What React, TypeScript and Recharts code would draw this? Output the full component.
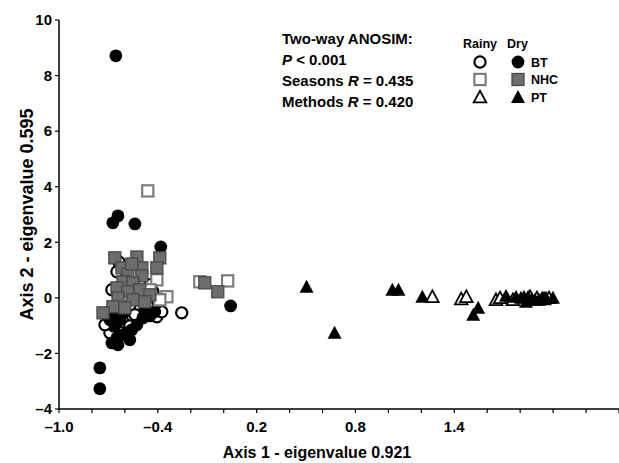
import { ScatterChart, Scatter, XAxis, YAxis } from 'recharts';

// PCoA scores per site and season, [axis 1, axis 2]
const btRainy = [
  [-0.648, 0.94], [-0.636, 1.29], [-0.255, -0.54], [-0.406, -0.68], [-0.376, -0.5],
  [-0.4, -0.14], [-0.43, 0.22], [-0.691, -1.26], [-0.667, -1.01], [-0.612, -0.86],
  [-0.57, -1.01], [-0.721, -0.97], [-0.479, -0.07], [-0.448, 0.47], [-0.509, -0.43],
  [-0.679, 0.29], [-0.539, -0.61],
];
const btDry = [
  [-0.655, 8.71], [-0.673, 2.7], [-0.642, 2.95], [-0.539, 2.66], [-0.382, 1.83],
  [0.042, -0.29], [-0.752, -2.52], [-0.752, -3.27], [-0.679, -1.62], [-0.648, -1.44],
  [-0.618, -1.33], [-0.588, -1.26], [-0.558, -1.15], [-0.527, -0.97], [-0.661, -0.97],
  [-0.63, -0.79], [-0.691, -0.79], [-0.491, -0.72], [-0.448, -0.65], [-0.418, -0.5],
  [-0.479, -0.36], [-0.6, -0.5], [-0.673, -0.5], [-0.703, -0.65], [-0.642, -1.69],
  [-0.57, -1.51],
];
const nhcRainy = [
  [-0.461, 3.85], [-0.406, 0.65], [-0.345, 0.04], [-0.145, 0.58], [0.024, 0.61],
  [-0.448, 0.29], [-0.388, -0.07], [-0.6, 0.11], [-0.539, 0.29],
];
const nhcDry = [
  [-0.661, 1.44], [-0.527, 1.47], [-0.388, 1.44], [-0.406, 1.08], [-0.497, 1.08],
  [-0.618, 1.08], [-0.582, 0.86], [-0.497, 0.79], [-0.612, 0.58], [-0.552, 0.54],
  [-0.648, 0.36], [-0.582, 0.22], [-0.509, 0.29], [-0.448, 0.11], [-0.642, 0.0],
  [-0.552, -0.07], [-0.479, -0.14], [-0.673, -0.32], [-0.6, -0.36], [-0.733, -0.54],
  [-0.115, 0.54], [-0.036, 0.22], [-0.558, 1.22],
];
const ptRainy = [
  [1.267, 0.04], [1.442, -0.04], [1.473, 0.04], [1.653, -0.07], [1.678, 0.0],
  [1.756, -0.07], [1.86, 0.04], [1.902, 0.0], [1.945, -0.04], [1.975, 0.0],
];
const ptDry = [
  [0.503, 0.4], [0.673, -1.26], [1.024, 0.29], [1.061, 0.29], [1.206, 0.04],
  [1.515, -0.61], [1.545, -0.36], [1.714, 0.07], [1.775, 0.04], [1.805, 0.0],
  [1.823, 0.04], [1.848, 0.04], [1.872, -0.04], [1.89, -0.07], [1.914, -0.07],
  [1.933, 0.0], [1.957, 0.0], [1.999, 0.0], [1.835, -0.14],
];

const xTicks = [-1.0, -0.8, -0.6, -0.4, -0.2, 0, 0.2, 0.4, 0.6, 0.8, 1.0, 1.2, 1.4, 1.6, 1.8, 2.0, 2.2, 2.4];
const xLabelled = [-1.0, -0.4, 0.2, 0.8, 1.4];
const yTicks = [-4, -2, 0, 2, 4, 6, 8, 10];

const statLines = ['Two-way ANOSIM:', 'P', 'Seasons', 'Methods'];

const FONT = '"Liberation Sans", Arial, sans-serif';

const toPoints = (arr: number[][]) => arr.map(([x, y]) => ({ x, y }));

const fmt = (v: number) => {
  const s = Math.abs(v) < 1e-9 ? '0' : Math.abs(v).toString();
  return v < 0 ? '\u2013' + s : s;
};
const fmtX = (v: number) => {
  if (!xLabelled.some((t) => Math.abs(t - v) < 1e-6)) return '';
  const s = Math.abs(v).toFixed(1);
  return v < 0 ? '\u2013' + s : s;
};

const OpenCircle = (p: any) => (
  <circle cx={p.cx} cy={p.cy} r={5.6} fill="#fff" stroke="#000" strokeWidth={2.2} />
);
const SolidCircle = (p: any) => <circle cx={p.cx} cy={p.cy} r={6.4} fill="#000" />;
const OpenSquare = (p: any) => (
  <rect x={p.cx - 5.6} y={p.cy - 5.6} width={11.2} height={11.2} fill="#fff" stroke="#7c7c7c" strokeWidth={2.2} />
);
const GraySquare = (p: any) => (
  <rect x={p.cx - 6} y={p.cy - 6} width={12} height={12} fill="#6d6d6d" stroke="#4a4a4a" strokeWidth={1.3} />
);
const triPath = (cx: number, cy: number, r: number) =>
  `M${cx},${cy - r} L${cx + r},${cy + r * 0.85} L${cx - r},${cy + r * 0.85} Z`;
const OpenTri = (p: any) => (
  <path d={triPath(p.cx, p.cy, 6.3)} fill="#fff" stroke="#000" strokeWidth={1.8} />
);
const SolidTri = (p: any) => <path d={triPath(p.cx, p.cy, 7)} fill="#000" />;

function Overlay() {
  const t = { fontFamily: FONT, fontWeight: 700, fill: '#000' } as const;
  return (
    <svg width={619} height={463} style={{ position: 'absolute', left: 0, top: 0, pointerEvents: 'none' }}>
      <text x={282} y={44} fontSize={15} style={t}>{statLines[0]}</text>
      <text x={282} y={65} fontSize={15} style={t}>
        <tspan fontStyle="italic">{statLines[1]}</tspan> &lt; 0.001
      </text>
      <text x={282} y={86} fontSize={15} style={t}>
        {statLines[2]} <tspan fontStyle="italic">R</tspan> = 0.435
      </text>
      <text x={282} y={107} fontSize={15} style={t}>
        {statLines[3]} <tspan fontStyle="italic">R</tspan> = 0.420
      </text>

      <text x={463} y={48} fontSize={12.5} style={t}>Rainy</text>
      <text x={507} y={48} fontSize={12.5} style={t}>Dry</text>
      <OpenCircle cx={480} cy={62} />
      <SolidCircle cx={518} cy={62} />
      <text x={531} y={67} fontSize={12.5} style={t}>BT</text>
      <OpenSquare cx={480} cy={79.5} />
      <GraySquare cx={518} cy={79.5} />
      <text x={531} y={84} fontSize={12.5} style={t}>NHC</text>
      <OpenTri cx={480} cy={97} />
      <SolidTri cx={518} cy={97} />
      <text x={531} y={102} fontSize={12.5} style={t}>PT</text>
    </svg>
  );
}

export default function App() {
  const tick = { fill: '#000', fontSize: 15, fontWeight: 700, fontFamily: FONT };
  return (
    <div style={{ position: 'absolute', left: 0, top: 0, width: 619, height: 463, background: '#fff' }}>
      <ScatterChart width={619} height={463} margin={{ top: 20, right: 0, bottom: 0, left: 0 }}>
        <XAxis
          type="number"
          dataKey="x"
          domain={[-1, 2.4]}
          ticks={xTicks}
          tickFormatter={fmtX}
          interval={0}
          allowDataOverflow
          height={54}
          tick={tick}
          tickSize={4}
          tickMargin={8}
          axisLine={{ stroke: '#000', strokeWidth: 1.5 }}
          tickLine={{ stroke: '#000', strokeWidth: 1.2 }}
          label={{
            value: 'Axis 1 - eigenvalue 0.921',
            position: 'insideBottom',
            offset: 5,
            dx: -22,
            style: { fill: '#000', fontSize: 16, fontWeight: 700, fontFamily: FONT },
          }}
        />
        <YAxis
          type="number"
          dataKey="y"
          domain={[-4, 10]}
          ticks={yTicks}
          tickFormatter={fmt}
          interval={0}
          width={59}
          tick={tick}
          tickSize={4}
          tickMargin={3}
          axisLine={{ stroke: '#000', strokeWidth: 1.5 }}
          tickLine={{ stroke: '#000', strokeWidth: 1.2 }}
          label={{
            value: 'Axis 2 - eigenvalue 0.595',
            angle: -90,
            position: 'insideLeft',
            offset: 0,
            dx: 27,
            style: { fill: '#000', fontSize: 18, fontWeight: 700, fontFamily: FONT, textAnchor: 'middle' },
          }}
        />
        <Scatter data={toPoints(btRainy)} shape={OpenCircle} isAnimationActive={false} />
        <Scatter data={toPoints(btDry)} shape={SolidCircle} isAnimationActive={false} />
        <Scatter data={toPoints(nhcRainy)} shape={OpenSquare} isAnimationActive={false} />
        <Scatter data={toPoints(nhcDry)} shape={GraySquare} isAnimationActive={false} />
        <Scatter data={toPoints(ptRainy)} shape={OpenTri} isAnimationActive={false} />
        <Scatter data={toPoints(ptDry)} shape={SolidTri} isAnimationActive={false} />
      </ScatterChart>
      <Overlay />
    </div>
  );
}
